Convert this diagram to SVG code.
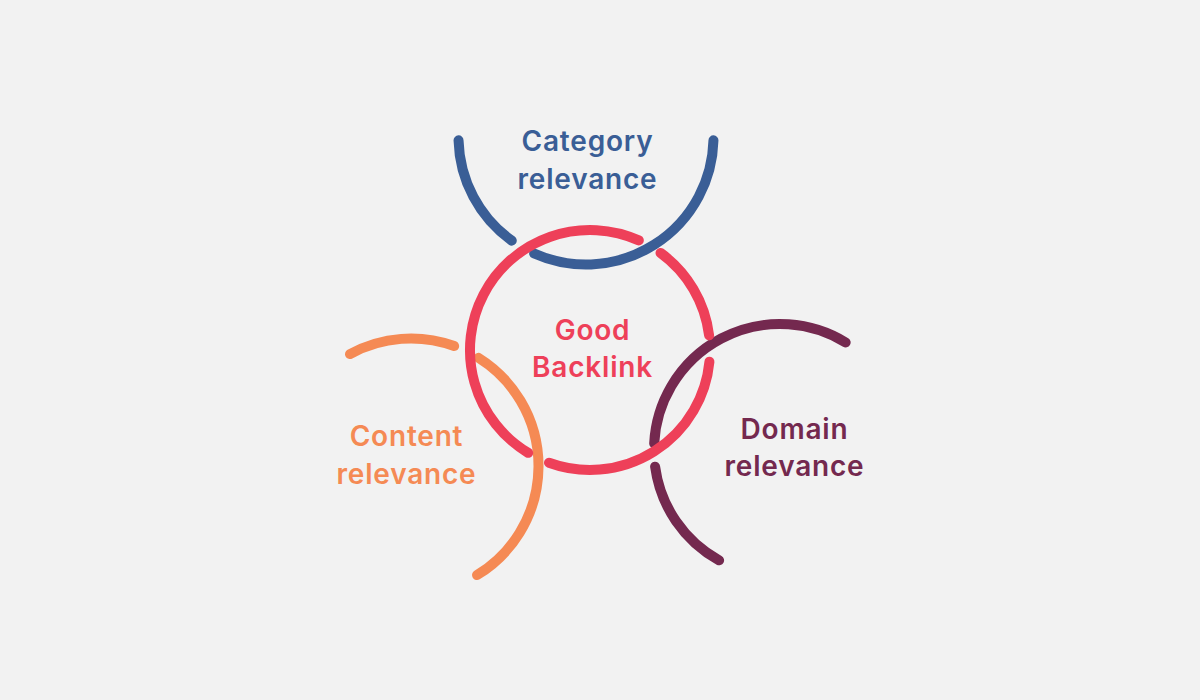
<svg xmlns="http://www.w3.org/2000/svg" width="1200" height="700" viewBox="0 0 1200 700">
<style>
.arc{fill:none;stroke-width:10;stroke-linecap:round}
.lbl{font-family:Inter,"Open Sans","Liberation Sans",sans-serif;font-weight:600;font-size:28px;letter-spacing:0.8px;text-anchor:middle}
.blue{stroke:#3a5e96}.blueT{fill:#3a5e96}
.red{stroke:#ee4059}.redT{fill:#ee4059}
.orange{stroke:#f58a54}.orangeT{fill:#f58a54}
.maroon{stroke:#74294f}.maroonT{fill:#74294f}
</style>
<rect width="1200" height="700" fill="#f2f2f2"/>
<g id="connectors">
<g id="category-arc">
<path class="arc blue" d="M 458.54 140.34 A 127.5 127.5 0 0 0 511.77 240.66"/>
<path class="arc blue" d="M 534.14 253.48 A 127.5 127.5 0 0 0 713.46 140.34"/>
</g>
<g id="content-arc">
<path class="arc orange" d="M 349.97 354.06 A 127.5 127.5 0 0 1 454.19 346.04"/>
<path class="arc orange" d="M 478.56 357.87 A 127.5 127.5 0 0 1 477.05 575.06"/>
</g>
<g id="domain-arc">
<path class="arc maroon" d="M 845.65 342.45 A 126 126 0 0 0 654.17 443.41"/>
<path class="arc maroon" d="M 655.11 466.66 A 126 126 0 0 0 719.11 560.31"/>
</g>
<g id="backlink-circle">
<path class="arc red" d="M 709.43 361.71 A 120 120 0 0 1 548.96 462.76"/>
<path class="arc red" d="M 528.20 452.86 A 120 120 0 0 1 638.81 240.37"/>
<path class="arc red" d="M 660.53 252.92 A 120 120 0 0 1 709.11 335.38"/>
</g>
</g>
<g id="category">
<text class="lbl blueT" x="587.5" y="151">Category</text>
<text class="lbl blueT" x="587.5" y="188.5">relevance</text>
</g>
<g id="good-backlink">
<text class="lbl redT" x="592.5" y="340">Good</text>
<text class="lbl redT" x="592.5" y="377">Backlink</text>
</g>
<g id="content">
<text class="lbl orangeT" x="406.5" y="446">Content</text>
<text class="lbl orangeT" x="406.5" y="483.5">relevance</text>
</g>
<g id="domain">
<text class="lbl maroonT" x="794.5" y="438.5">Domain</text>
<text class="lbl maroonT" x="794.5" y="475.5">relevance</text>
</g>
</svg>
